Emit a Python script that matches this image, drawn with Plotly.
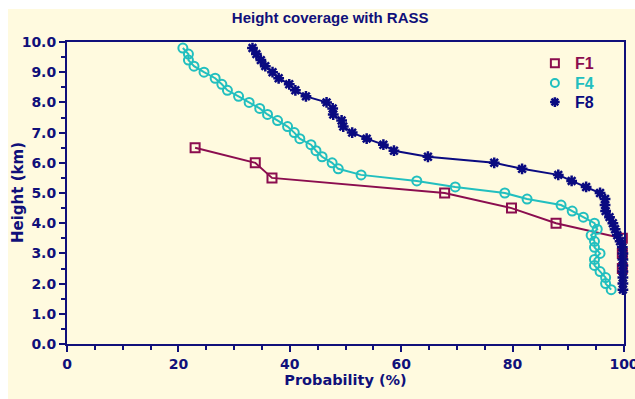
import plotly.graph_objects as go

# ---- data ----
f1_height = [6.5, 6.0, 5.5, 5.0, 4.5, 4.0, 3.5, 3.0, 2.5]
f1_prob = [23.0, 33.8, 36.8, 67.8, 79.8, 87.8, 99.7, 99.7, 99.7]

f4_height = [9.8, 9.6, 9.4, 9.2, 9.0, 8.8, 8.6, 8.4, 8.2, 8.0, 7.8, 7.6, 7.4, 7.2, 7.0,
             6.8, 6.6, 6.4, 6.2, 6.0, 5.8, 5.6, 5.4, 5.2, 5.0, 4.8, 4.6, 4.4, 4.2, 4.0,
             3.8, 3.6, 3.4, 3.2, 3.0, 2.8, 2.6, 2.4, 2.2, 2.0, 1.8]
f4_prob = [20.8, 21.8, 21.8, 22.8, 24.6, 26.6, 27.8, 28.8, 30.8, 32.7, 34.6, 36.0, 37.8, 39.6, 40.8,
           41.8, 43.8, 44.7, 45.8, 47.6, 48.7, 52.8, 62.8, 69.7, 78.6, 82.6, 88.7, 90.7, 92.7, 94.7,
           95.2, 94.1, 94.7, 94.7, 95.7, 94.7, 94.7, 95.7, 96.7, 96.7, 97.7]

f8_height = [9.8, 9.6, 9.4, 9.2, 9.0, 8.8, 8.6, 8.4, 8.2, 8.0, 7.8, 7.6, 7.4, 7.2, 7.0,
             6.8, 6.6, 6.4, 6.2, 6.0, 5.8, 5.6, 5.4, 5.2, 5.0, 4.8, 4.6, 4.4, 4.2, 4.0,
             3.8, 3.6, 3.4, 3.2, 3.0, 2.8, 2.6, 2.4, 2.2, 2.0, 1.8]
f8_prob = [33.3, 34.0, 34.8, 35.6, 36.9, 38.0, 39.9, 41.0, 42.9, 46.6, 47.7, 47.8, 49.3, 49.6, 51.2,
           53.8, 56.8, 58.7, 64.8, 76.7, 81.7, 88.2, 90.6, 93.2, 95.7, 96.6, 96.6, 96.7, 97.4, 98.0,
           98.4, 98.8, 99.3, 99.7, 99.8, 99.8, 99.8, 99.8, 99.8, 99.8, 99.8]

x_ticks = [0, 20, 40, 60, 80, 100]
y_ticks = [0.0, 1.0, 2.0, 3.0, 4.0, 5.0, 6.0, 7.0, 8.0, 9.0, 10.0]

C1 = "#8B0D4F"
C4 = "#22BFBF"
C8 = "#0A0A80"
NAVY = "#10107A"
BG = "#FFFADF"
FONT = "DejaVu Sans, Verdana, sans-serif"
FONT_A = "Arial, Liberation Sans, sans-serif"

W, H = 635, 399
ML, MR, MT, MB = 67, 11, 42, 55
pw = W - ML - MR
ph = H - MT - MB

fig = go.Figure()

series = [
    ("F1", f1_prob, f1_height, C1, "square-open", 9, 2, "legend"),
    ("F4", f4_prob, f4_height, C4, "circle-open", 9, 2, "legend2"),
    ("F8", f8_prob, f8_height, C8, "asterisk-open", 9, 2.5, "legend3"),
]

for name, xs, ys, col, sym, size, lw, lg in series:
    fig.add_trace(go.Scatter(
        x=xs, y=ys, mode="lines+markers", showlegend=False,
        line=dict(color=col, width=2),
        marker=dict(symbol=sym, size=size, color=col, line=dict(color=col, width=lw)),
        cliponaxis=False,
    ))

for name, xs, ys, col, sym, size, lw, lg in series:
    fig.add_trace(go.Scatter(
        x=[None], y=[None], mode="markers", legend=lg,
        name=f"<b><span style='color:{col}'>{name}</span></b>",
        marker=dict(symbol=sym, size=size - 1, color=col, line=dict(color=col, width=lw)),
    ))

leg_common = dict(x=0.840, xanchor="left", yanchor="top", bgcolor="rgba(0,0,0,0)",
                  font=dict(size=16, family=FONT_A), itemwidth=30)

fig.update_layout(
    width=W, height=H,
    margin=dict(l=ML, r=MR, t=MT, b=MB),
    paper_bgcolor=BG, plot_bgcolor=BG,
    font=dict(family=FONT, color=NAVY),
    title=dict(text="<b>Height coverage with RASS</b>", x=0.52, xanchor="center",
               y=1 - 18 / H, yanchor="middle", font=dict(size=15, color=NAVY, family=FONT_A)),
    showlegend=True,
    legend=dict(y=0.986, **leg_common),
    legend2=dict(y=0.920, **leg_common),
    legend3=dict(y=0.857, **leg_common),
    xaxis=dict(range=[0, 100], tickvals=x_ticks, ticktext=[str(v) for v in x_ticks],
               automargin=False, ticklabeloverflow="allow",
               ticks="outside", ticklen=6, tickwidth=1.5, tickcolor=NAVY,
               showline=True, linecolor=NAVY, linewidth=2, mirror=True,
               showgrid=False, zeroline=False,
               tickfont=dict(size=14, family=FONT, color=NAVY, weight="bold"),
               minor=dict(dtick=5, ticks="outside", ticklen=4, tickwidth=1.5, tickcolor=NAVY),
               title=dict(text="<b>Probability (%)</b>", font=dict(size=14.5, color=NAVY), standoff=4)),
    yaxis=dict(range=[0, 10], tickvals=y_ticks, ticktext=[f"{v:.1f}" for v in y_ticks],
               automargin=False, ticklabeloverflow="allow",
               ticks="outside", ticklen=6, tickwidth=1.5, tickcolor=NAVY,
               showline=True, linecolor=NAVY, linewidth=2, mirror=True,
               showgrid=False, zeroline=False,
               tickfont=dict(size=14, family=FONT, color=NAVY, weight="bold"),
               minor=dict(dtick=0.5, ticks="outside", ticklen=4, tickwidth=1.5, tickcolor=NAVY)),
    annotations=[dict(text="<b>Height (km)</b>", textangle=-90, showarrow=False,
                      xref="paper", yref="paper", x=(18 - ML) / pw, y=0.5,
                      xanchor="center", yanchor="middle",
                      font=dict(size=15, family=FONT, color=NAVY))],
)

# white frame strip at top and left (outside the plot area)
fig.add_shape(type="rect", xref="paper", yref="paper", layer="above",
              x0=-ML / pw, x1=(W - ML) / pw, y0=(H - MB - 9) / ph, y1=(H - MB) / ph,
              fillcolor="white", line=dict(width=0))
fig.add_shape(type="rect", xref="paper", yref="paper", layer="above",
              x0=-ML / pw, x1=(8 - ML) / pw, y0=-MB / ph, y1=(H - MB) / ph,
              fillcolor="white", line=dict(width=0))

fig.write_html("out.html")
